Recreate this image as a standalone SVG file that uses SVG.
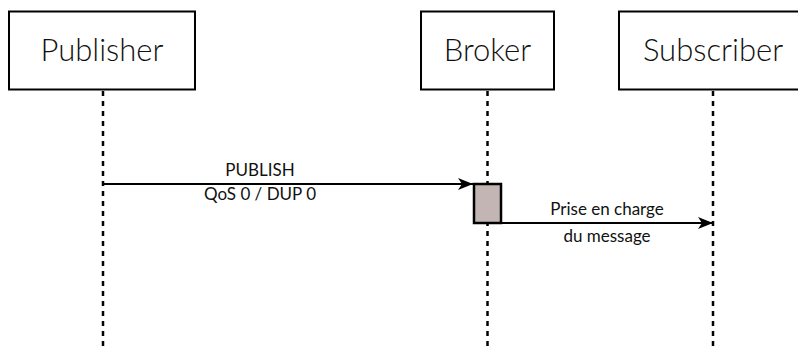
<svg xmlns="http://www.w3.org/2000/svg" width="798" height="349" viewBox="0 0 798 349">
<defs>
<style>
.box{fill:#fff;stroke:#000;stroke-width:2}
.title{font-family:Lato,"Open Sans",sans-serif;font-size:31px;font-weight:300;fill:#111;text-anchor:middle}
.lbl{font-family:Lato,"Open Sans",sans-serif;font-size:17px;fill:#111;text-anchor:middle}
.life{stroke:#000;stroke-width:2.5;stroke-dasharray:5,5;fill:none}
.msg{stroke:#000;stroke-width:2;fill:none;marker-end:url(#arr)}
.act{fill:#c4b5b5;stroke:#000;stroke-width:2.5}
</style>
<marker id="arr" markerWidth="16" markerHeight="12" refX="15" refY="6" orient="auto" markerUnits="userSpaceOnUse">
<path d="M0,0 L15,6 L0,12 L4,6 Z" fill="#000"/>
</marker>
</defs>
<rect width="798" height="349" fill="#fff"/>
<g id="lifelines">
<line class="life" x1="103" y1="91" x2="103" y2="349"/>
<line class="life" x1="487.5" y1="91" x2="487.5" y2="349"/>
<line class="life" x1="713" y1="91" x2="713" y2="349"/>
</g>
<g id="publisher">
<rect class="box" x="9" y="11.5" width="186" height="78"/>
<text class="title" x="102" y="61">Publisher</text>
</g>
<g id="broker">
<rect class="box" x="421" y="11.5" width="133" height="78"/>
<text class="title" x="487.5" y="61">Broker</text>
</g>
<g id="subscriber">
<rect class="box" x="619" y="11.5" width="190" height="78"/>
<text class="title" x="713" y="61">Subscriber</text>
</g>
<g id="connectors">
<line class="msg" x1="103" y1="184" x2="473" y2="184"/>
<line class="msg" x1="501" y1="223" x2="713" y2="223"/>
</g>
<g id="activation">
<rect class="act" x="474" y="184" width="27" height="39"/>
</g>
<g id="labels">
<text class="lbl" x="260" y="176">PUBLISH</text>
<text class="lbl" x="260" y="200">QoS 0 / DUP 0</text>
<text class="lbl" x="607" y="215">Prise en charge</text>
<text class="lbl" x="607" y="242">du message</text>
</g>
</svg>
